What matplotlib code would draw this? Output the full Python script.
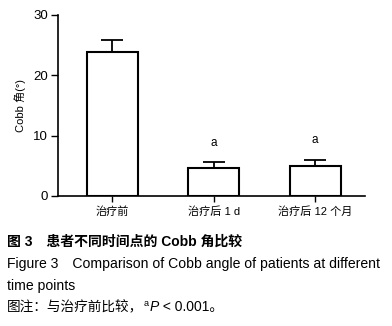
import numpy as np
import matplotlib.pyplot as plt

plt.rcParams['font.family'] = ['Liberation Sans', 'Noto Sans CJK SC', 'DejaVu Sans']

# data
groups = ['治疗前', '治疗后 1 d', '治疗后 12 个月']
cobb_mean = [23.8, 4.6, 4.9]
cobb_sd = [2.0, 1.0, 1.1]
sig = ['', 'a', 'a']

fig = plt.figure(figsize=(3.92, 3.26), dpi=100)
ax = fig.add_axes([0.148, 0.399, 0.783, 0.555])

x = np.arange(len(groups))
ax.bar(x, cobb_mean, 0.5, color='white', edgecolor='black', linewidth=1.5)
ax.errorbar(x, cobb_mean, yerr=[np.zeros(len(x)), cobb_sd], fmt='none',
            ecolor='black', elinewidth=1.3, capsize=8, capthick=1.3)

for xi, m, s, lab in zip(x, cobb_mean, cobb_sd, sig):
    if lab:
        ax.text(xi, m + s + 2.2, lab, ha='center', va='bottom', fontsize=8.5)

ax.set_xlim(-0.535, 2.49)
ax.set_ylim(0, 30)
ax.set_yticks([0, 10, 20, 30])
ax.set_xticks(x)
ax.set_xticklabels(groups, fontsize=8)
ax.tick_params(axis='y', labelsize=9.5, length=5, width=1, pad=2)
ax.tick_params(axis='x', length=4, width=1)
ax.set_ylabel('Cobb 角(°)', fontsize=8, labelpad=5)
for s in ['top', 'right']:
    ax.spines[s].set_visible(False)
for s in ['left', 'bottom']:
    ax.spines[s].set_linewidth(1.2)

# caption
fig.text(0.018, 1 - 242/326, '图 3　患者不同时间点的 Cobb 角比较', fontsize=10,
         fontweight='bold', va='center')
fig.text(0.018, 1 - 264/326, 'Figure 3　Comparison of Cobb angle of patients at different',
         fontsize=10.1, va='center')
fig.text(0.018, 1 - 286/326, 'time points', fontsize=10.1, va='center')

# note line with superscript a and italic P
fig.canvas.draw()
r = fig.canvas.get_renderer()
t1 = fig.text(0.018, 1 - 307/326, '图注：与治疗前比较，', fontsize=9.8, va='center')
w1 = t1.get_window_extent(r).width
t2 = fig.text(0.018 + w1/392, 1 - 303/326, 'a', fontsize=6.5, va='center')
w2 = t2.get_window_extent(r).width
t3 = fig.text(0.018 + (w1 + w2 + 1)/392, 1 - 307/326, 'P', fontsize=10,
              style='italic', va='center')
w3 = t3.get_window_extent(r).width
fig.text(0.018 + (w1 + w2 + w3 + 1)/392, 1 - 307/326, ' < 0.001。', fontsize=10,
         va='center')

plt.savefig('out.png', dpi=100)
